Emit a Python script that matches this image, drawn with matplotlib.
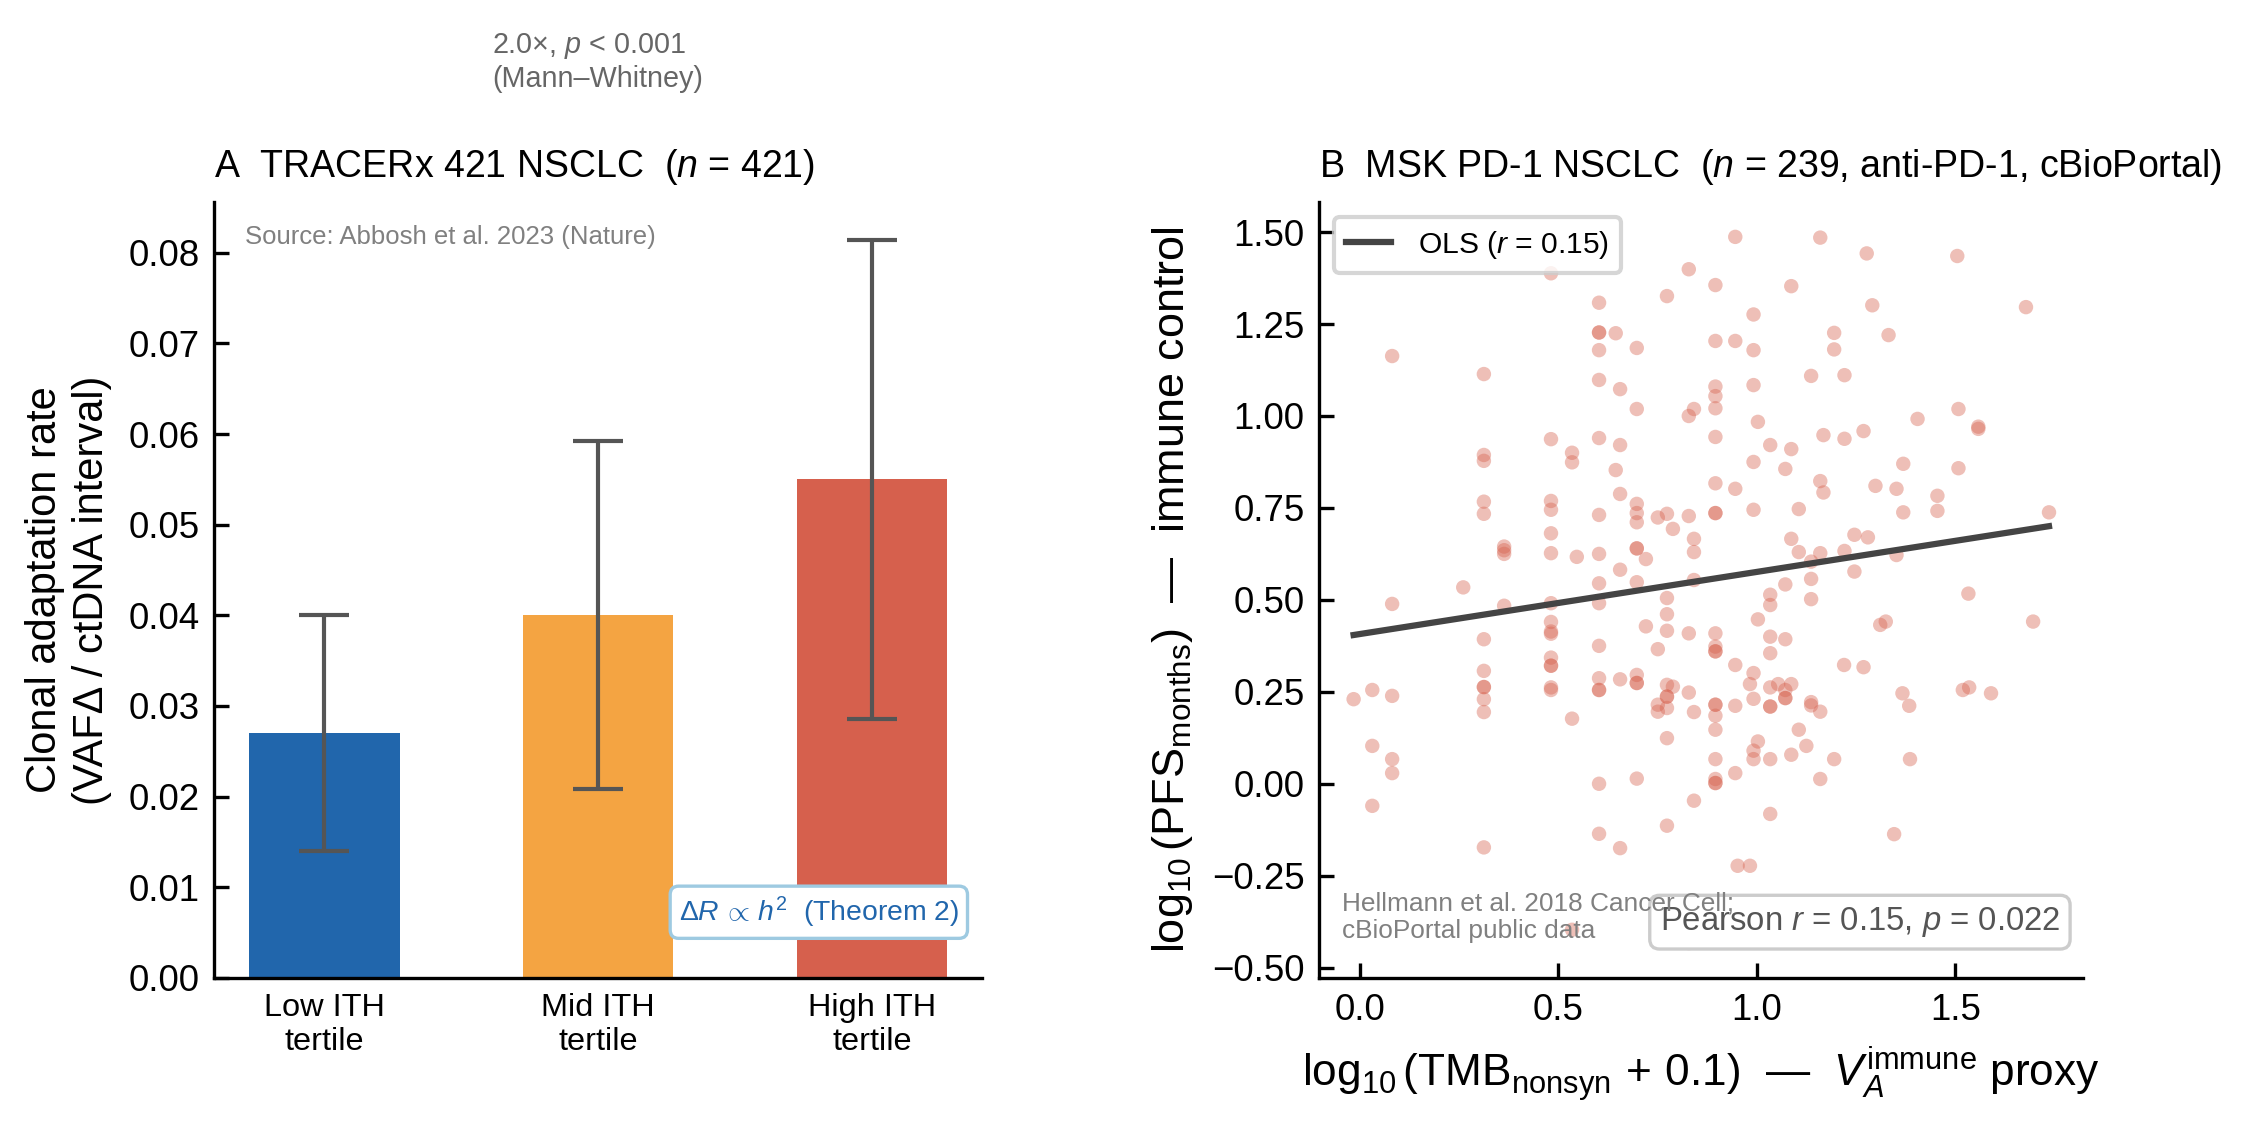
import numpy as np
import matplotlib
matplotlib.use("Agg")
import matplotlib.pyplot as plt

plt.rcParams['font.family'] = ['Liberation Sans', 'DejaVu Sans']
plt.rcParams['mathtext.fontset'] = 'custom'
plt.rcParams['mathtext.rm'] = 'Liberation Sans'
plt.rcParams['mathtext.it'] = 'Liberation Sans:italic'
plt.rcParams['mathtext.bf'] = 'Liberation Sans:bold'

# panel A: clonal adaptation rate by ITH tertile
tertiles = ['Low ITH\ntertile', 'Mid ITH\ntertile', 'High ITH\ntertile']
rate = [0.027, 0.040, 0.055]
rate_err = [0.013, 0.0192, 0.0264]
bar_colors = ['#2166ac', '#f4a442', '#d6604d']

# panel B: TMB vs PFS
tmb = [0.482, 0.082, 0.313, 0.482, 0.313, 0.313, 0.535, 0.535, 0.313, 0.313,
       0.482, 0.482, 0.482, 0.364, 0.364, 0.364, 0.482, 0.547, 0.261,
       0.082, 0.364, 0.482, 0.482, 0.482, 0.482, 0.313, 0.482, 0.482, 0.482,
       0.313, 0.313, 0.313, 0.482, 0.482, 0.313, 0.313, -0.015, 0.032, 0.082,
       0.535, 0.032, 0.082, 0.082, 0.032, 0.313, 0.535,
       0.946, 1.160, 0.829, 0.896, 1.087, 0.774, 0.603, 0.992, 0.603, 0.603,
       0.645, 0.603, 0.698, 0.896, 0.946, 0.992, 1.195, 1.195, 0.603, 0.656,
       1.137, 0.992, 0.896, 0.896, 0.896, 0.698, 0.842, 0.829, 1.003, 0.603,
       0.656, 0.896, 1.034, 1.087, 1.168, 0.992, 1.072, 0.645, 0.896, 0.946,
       1.160, 1.168, 0.656, 0.698, 0.698, 0.698, 0.603, 0.751, 0.774, 0.829,
       0.896, 0.896, 0.992, 1.106, 0.789, 0.842, 0.842, 1.087, 1.106, 1.160,
       1.137, 0.698, 0.698, 0.721, 0.603, 0.656, 0.603, 0.698, 0.842, 1.137,
       1.072, 1.034, 0.774, 1.137,
       0.603, 1.034, 0.774, 0.721, 0.774, 0.829, 0.896, 1.034, 1.072, 1.003,
       0.603, 0.751, 0.896, 0.896, 0.896, 1.034, 0.946, 0.992, 0.603, 0.656,
       0.698, 0.698, 0.698, 0.603, 0.603, 0.774, 0.789, 0.774, 0.774, 0.751,
       0.751, 0.774, 0.829, 0.842, 0.896, 0.896, 0.896, 0.946, 0.983, 1.034,
       1.054, 0.992, 1.034, 1.034, 1.072, 1.072, 1.072, 1.087, 1.137, 1.137,
       1.160, 0.774, 0.896, 1.106, 1.003, 0.992, 0.992, 1.034, 1.087, 1.125,
       0.896, 0.946, 0.896, 0.896, 0.896, 0.603, 0.698, 1.160, 0.842, 1.034,
       0.603, 0.656, 0.774, 0.952, 0.983, 0.829,
       1.533, 1.696, 1.311, 1.325, 1.220, 1.269, 1.367, 1.384, 1.519, 1.535,
       1.590, 1.195, 1.386, 1.346,
       1.277, 1.505, 1.291, 1.678, 1.332, 1.221, 1.508, 1.405, 1.558, 1.558,
       1.221, 1.269, 1.369, 1.508, 1.299, 1.352, 1.455, 1.455, 1.369, 1.736,
       1.246, 1.280, 1.221, 1.352, 1.246]
pfs = [1.388, 1.163, 1.114, 0.937, 0.894, 0.878, 0.900, 0.874, 0.767, 0.734,
       0.769, 0.745, 0.681, 0.645, 0.635, 0.625, 0.627, 0.617, 0.534,
       0.489, 0.484, 0.491, 0.440, 0.414, 0.408, 0.393, 0.343, 0.321, 0.321,
       0.307, 0.263, 0.263, 0.262, 0.255, 0.230, 0.195, 0.230, 0.255, 0.239,
       0.177, 0.103, 0.067, 0.029, -0.060, -0.173, -0.397,
       1.487, 1.485, 1.399, 1.356, 1.353, 1.326, 1.308, 1.276, 1.227, 1.227,
       1.225, 1.179, 1.185, 1.204, 1.204, 1.179, 1.226, 1.181, 1.098, 1.073,
       1.109, 1.084, 1.080, 1.054, 1.021, 1.019, 1.019, 1.000, 0.984, 0.940,
       0.921, 0.943, 0.921, 0.910, 0.948, 0.875, 0.856, 0.853, 0.817, 0.802,
       0.823, 0.792, 0.788, 0.761, 0.736, 0.711, 0.731, 0.724, 0.734, 0.728,
       0.736, 0.736, 0.745, 0.747, 0.693, 0.666, 0.630, 0.666, 0.630, 0.627,
       0.604, 0.640, 0.640, 0.611, 0.625, 0.582, 0.545, 0.548, 0.554, 0.557,
       0.542, 0.514, 0.505, 0.502,
       0.491, 0.486, 0.461, 0.428, 0.416, 0.409, 0.409, 0.400, 0.393, 0.447,
       0.375, 0.366, 0.373, 0.360, 0.360, 0.355, 0.323, 0.301, 0.287, 0.284,
       0.296, 0.274, 0.274, 0.255, 0.255, 0.269, 0.264, 0.237, 0.237, 0.215,
       0.196, 0.206, 0.248, 0.195, 0.215, 0.215, 0.185, 0.212, 0.271, 0.262,
       0.271, 0.231, 0.210, 0.210, 0.255, 0.233, 0.233, 0.271, 0.222, 0.213,
       0.196, 0.124, 0.147, 0.147, 0.115, 0.090, 0.067, 0.067, 0.079, 0.103,
       0.067, 0.029, 0.013, 0.002, 0.002, 0.000, 0.014, 0.013, -0.046, -0.082,
       -0.136, -0.175, -0.114, -0.223, -0.223, -0.433,
       0.517, 0.441, 0.432, 0.441, 0.323, 0.317, 0.246, 0.212, 0.255, 0.262,
       0.246, 0.067, 0.067, -0.137,
       1.442, 1.435, 1.301, 1.296, 1.220, 1.111, 1.019, 0.992, 0.971, 0.965,
       0.938, 0.959, 0.870, 0.858, 0.810, 0.802, 0.783, 0.742, 0.738, 0.738,
       0.677, 0.670, 0.633, 0.622, 0.577]
ols_slope = 0.169
ols_intercept = 0.407

fig = plt.figure(figsize=(7.56, 3.75), dpi=300)
axA = fig.add_axes([0.0944, 0.1307, 0.3386, 0.6898])
axB = fig.add_axes([0.5816, 0.1307, 0.3369, 0.6898])

for ax in (axA, axB):
    ax.spines['top'].set_visible(False)
    ax.spines['right'].set_visible(False)
    for s in ('left', 'bottom'):
        ax.spines[s].set_linewidth(0.8)
    ax.tick_params(direction='in', length=3.5, width=0.8, labelsize=8.8)

# ---- panel A
xpos = np.arange(len(tertiles))
axA.bar(xpos, rate, width=0.55, color=bar_colors, zorder=2)
axA.errorbar(xpos, rate, yerr=rate_err, fmt='none', ecolor='#555555',
             elinewidth=1.0, capsize=6, capthick=1.0, zorder=3)
axA.set_xticks(xpos)
axA.set_xticklabels(tertiles, fontsize=7.8)
axA.set_ylim(0, 0.0856)
axA.set_yticks(np.arange(0, 0.081, 0.01))
axA.set_ylabel('Clonal adaptation rate\n(VAFΔ / ctDNA interval)', fontsize=10)
axA.set_title(r'A  TRACERx 421 NSCLC  ($n$ = 421)', loc='left', fontsize=9)
axA.text(0.04, 0.97, 'Source: Abbosh et al. 2023 (Nature)', transform=axA.transAxes,
         fontsize=6.2, color='#808080', va='top', ha='left')
axA.text(0.362, 1.14, '2.0×, $p$ < 0.001\n(Mann–Whitney)', transform=axA.transAxes,
         fontsize=6.9, color='#666666', va='bottom', ha='left')
axA.text(0.97, 0.062, r'$\Delta R\,\propto\,h^2$  (Theorem 2)', transform=axA.transAxes,
         fontsize=6.8, color='#2166ac', ha='right', va='bottom',
         bbox=dict(boxstyle='round,pad=0.3', fc='white', ec='#9ecae1', lw=0.8))

# ---- panel B
axB.scatter(tmb, pfs, s=12, color='#d6604d', alpha=0.4, edgecolors='none', zorder=2)
xl = np.array([min(tmb), max(tmb)])
axB.plot(xl, ols_intercept + ols_slope * xl, color='#444444', lw=1.5,
         label=r'OLS ($r$ = 0.15)', zorder=3)
axB.set_xlim(-0.102, 1.822)
axB.set_ylim(-0.528, 1.582)
axB.set_xticks([0.0, 0.5, 1.0, 1.5])
axB.set_yticks(np.arange(-0.5, 1.51, 0.25))
axB.set_xlabel(r'$\log_{10}(\mathrm{TMB}_{\mathrm{nonsyn}}\,+\,0.1)$  —  $V_A^{\mathrm{immune}}$ proxy',
               fontsize=10.6)
axB.set_ylabel(r'$\log_{10}(\mathrm{PFS}_{\mathrm{months}})$  —  immune control', fontsize=10.8)
axB.set_title(r'B  MSK PD-1 NSCLC  ($n$ = 239, anti-PD-1, cBioPortal)', loc='left', fontsize=9)
axB.legend(loc='upper left', fontsize=7.2, frameon=True, handlelength=1.5,
           handletextpad=0.9)
axB.text(0.97, 0.05, r'Pearson $r$ = 0.15, $p$ = 0.022', transform=axB.transAxes,
         fontsize=7.9, color='#555555', ha='right', va='bottom',
         bbox=dict(boxstyle='round,pad=0.3', fc='white', ec='#cccccc', lw=0.8))
# source note drawn after the stats box, so it stays visible on top of it
axB.text(0.03, 0.045, 'Hellmann et al. 2018 Cancer Cell;\ncBioPortal public data',
         transform=axB.transAxes, fontsize=6.3, color='#808080', ha='left', va='bottom')

fig.savefig('out.png', dpi=300)
